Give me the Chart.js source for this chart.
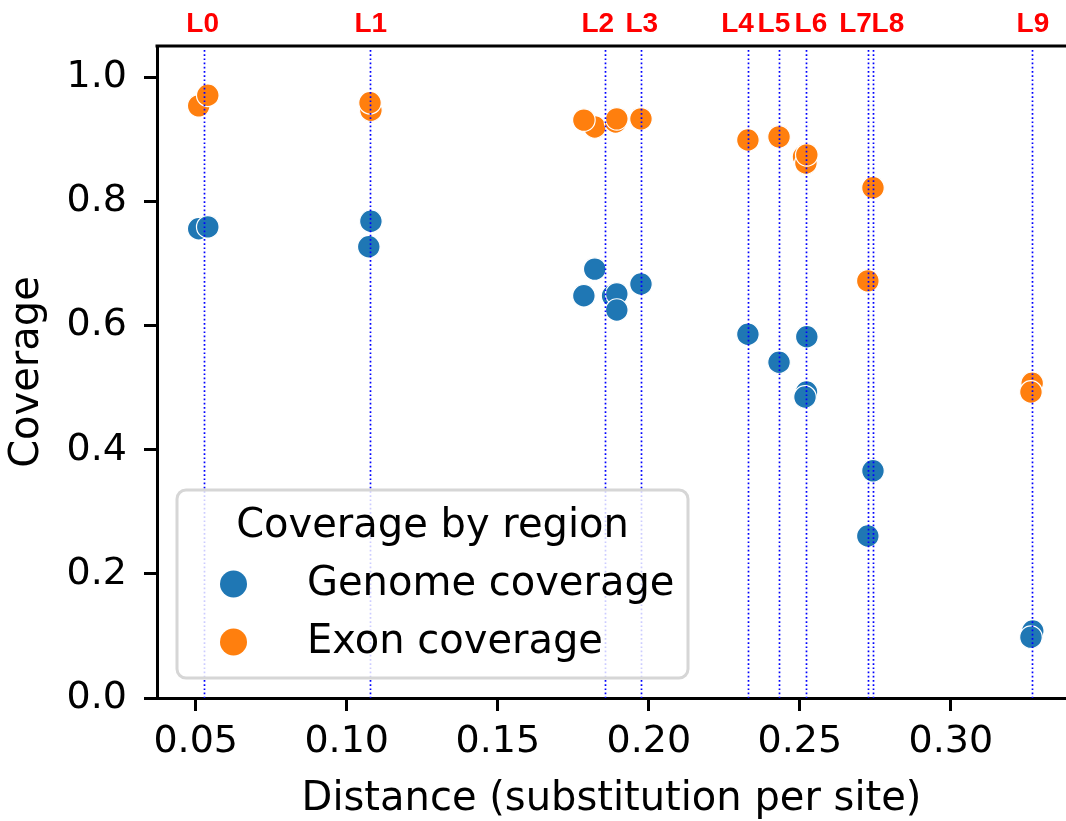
<!DOCTYPE html>
<html>
<head>
<meta charset="utf-8">
<script src="https://cdn.jsdelivr.net/npm/chart.js@4.4.0/dist/chart.umd.min.js"></script>
<style>
  html, body { margin: 0; padding: 0; background: #fff; }
  canvas { display: block; }
</style>
</head>
<body>
<canvas id="c" width="1066" height="821"></canvas>
<script>
// ---- data ----
const genomeX = [0.0510, 0.0540, 0.1080, 0.1073, 0.1785, 0.1821, 0.1880, 0.1894, 0.1894, 0.1974, 0.2328, 0.2431, 0.2523, 0.2522, 0.2517, 0.2725, 0.2742, 0.3271, 0.3265];
const genomeY = [0.756, 0.759, 0.768, 0.727, 0.648, 0.691, 0.648, 0.651, 0.625, 0.667, 0.586, 0.541, 0.582, 0.493, 0.485, 0.261, 0.366, 0.108, 0.098];
const exonX   = [0.0510, 0.0540, 0.1080, 0.1077, 0.1821, 0.1785, 0.1890, 0.1894, 0.1974, 0.2328, 0.2431, 0.2512, 0.2520, 0.2523, 0.2725, 0.2742, 0.3269, 0.3265];
const exonY   = [0.954, 0.971, 0.947, 0.959, 0.920, 0.931, 0.928, 0.933, 0.933, 0.899, 0.904, 0.872, 0.862, 0.875, 0.672, 0.822, 0.507, 0.493];
const lineX      = [0.05265, 0.10762, 0.18543, 0.19745, 0.23278, 0.24295, 0.25190, 0.27240, 0.27407, 0.32672];
const lineLabels = ['L0', 'L1', 'L2', 'L3', 'L4', 'L5', 'L6', 'L7', 'L8', 'L9'];
const xTickValues = [0.05, 0.10, 0.15, 0.20, 0.25, 0.30];
const yTickValues = [0.0, 0.2, 0.4, 0.6, 0.8, 1.0];
const seriesNames = ['Genome coverage', 'Exon coverage'];
const legendTitle = 'Coverage by region';
const xTitle = 'Distance (substitution per site)';
const yTitle = 'Coverage';

// ---- style ----
const BLUE = '#1f77b4', ORANGE = '#ff7f0e';
const FONT = 'DejaVu Sans';
const labelShift = [-1, 1, -7, 0.7, -10.3, -4.7, 5.3, -12, 15.3, 1.3];

function pts(xs, ys) { return xs.map((x, i) => ({ x: x, y: ys[i] })); }

const refLines = {
  id: 'refLines',
  afterDatasetsDraw(chart) {
    const { ctx, chartArea, scales: { x } } = chart;
    ctx.save();
    ctx.strokeStyle = '#0000ff';
    ctx.lineWidth = 1.7;
    ctx.setLineDash([1.7, 2.5]);
    lineX.forEach(v => {
      const px = Math.round(x.getPixelForValue(v)) + 0.5;
      ctx.beginPath();
      ctx.moveTo(px, chartArea.top + 4);
      ctx.lineTo(px, chartArea.bottom);
      ctx.stroke();
    });
    ctx.setLineDash([]);
    ctx.fillStyle = '#ff0000';
    ctx.font = 'bold 28px "Liberation Sans"';
    ctx.textAlign = 'center';
    ctx.textBaseline = 'alphabetic';
    lineX.forEach((v, i) => {
      const px = x.getPixelForValue(v) + labelShift[i];
      ctx.fillText(lineLabels[i], px, 32);
    });
    // top spine
    ctx.strokeStyle = '#000';
    ctx.lineWidth = 3;
    ctx.beginPath();
    ctx.moveTo(chartArea.left - 1.5, chartArea.top);
    ctx.lineTo(chartArea.right, chartArea.top);
    ctx.stroke();
    ctx.restore();
  }
};

const boxLegend = {
  id: 'boxLegend',
  afterDraw(chart) {
    const { ctx } = chart;
    ctx.save();
    const bx = 177, by = 490, bw = 511, bh = 188;
    ctx.beginPath();
    ctx.roundRect(bx, by, bw, bh, 9);
    ctx.fillStyle = 'rgba(255,255,255,0.8)';
    ctx.fill();
    ctx.lineWidth = 3;
    ctx.strokeStyle = '#d6d6d6';
    ctx.stroke();
    ctx.fillStyle = '#000';
    ctx.font = '40px "' + FONT + '"';
    ctx.textAlign = 'center';
    ctx.textBaseline = 'alphabetic';
    ctx.fillText(legendTitle, bx + bw / 2, 537);
    const rows = [584, 642];
    chart.data.datasets.forEach((ds, i) => {
      ctx.beginPath();
      ctx.arc(233.5, rows[i], 13.5, 0, Math.PI * 2);
      ctx.fillStyle = ds.backgroundColor;
      ctx.fill();
      ctx.fillStyle = '#000';
      ctx.textAlign = 'left';
      ctx.fillText(ds.label, 307, rows[i] + 11);
    });
    ctx.restore();
  }
};

new Chart(document.getElementById('c'), {
  type: 'scatter',
  data: {
    datasets: [
      { label: seriesNames[0], data: pts(genomeX, genomeY), backgroundColor: BLUE, borderColor: '#ffffff', borderWidth: 1.2, pointRadius: 11.3, pointHoverRadius: 11.3 },
      { label: seriesNames[1], data: pts(exonX, exonY), backgroundColor: ORANGE, borderColor: '#ffffff', borderWidth: 1.2, pointRadius: 11.3, pointHoverRadius: 11.3 }
    ]
  },
  options: {
    responsive: false,
    animation: false,
    devicePixelRatio: 1,
    layout: { autoPadding: false, padding: { top: 46, right: 0, bottom: 0, left: 0 } },
    plugins: { legend: { display: false }, tooltip: { enabled: false } },
    scales: {
      x: {
        type: 'linear',
        min: 0.03719,
        max: 0.3381,
        afterBuildTicks: s => { s.ticks = xTickValues.map(v => ({ value: v })); },
        afterFit: s => { s.height = 123; s.paddingLeft = 0; s.paddingRight = 0; },
        ticks: { color: '#000', font: { family: FONT, size: 38 }, padding: 8, maxRotation: 0, callback: v => Number(v).toFixed(2) },
        grid: { display: true, drawOnChartArea: false, drawTicks: true, tickLength: 13, tickWidth: 3, tickColor: '#000' },
        border: { display: true, color: '#000', width: 3 },
        title: { display: true, text: xTitle, color: '#000', font: { family: FONT, size: 40, lineHeight: 1 }, padding: { top: 0, bottom: 1 } }
      },
      y: {
        type: 'linear',
        min: 0,
        max: 1.0504,
        afterBuildTicks: s => { s.ticks = yTickValues.map(v => ({ value: v })); },
        afterFit: s => { s.width = 157; s.paddingTop = 0; s.paddingBottom = 0; },
        ticks: { color: '#000', font: { family: FONT, size: 38 }, padding: 17, callback: v => Number(v).toFixed(1) },
        grid: { display: true, drawOnChartArea: false, drawTicks: true, tickLength: 13, tickWidth: 3, tickColor: '#000' },
        border: { display: true, color: '#000', width: 3 },
        title: { display: true, text: yTitle, color: '#000', font: { family: FONT, size: 40, lineHeight: 1 }, padding: { top: 8, bottom: 0 } }
      }
    }
  },
  plugins: [refLines, boxLegend]
});
</script>
</body>
</html>
